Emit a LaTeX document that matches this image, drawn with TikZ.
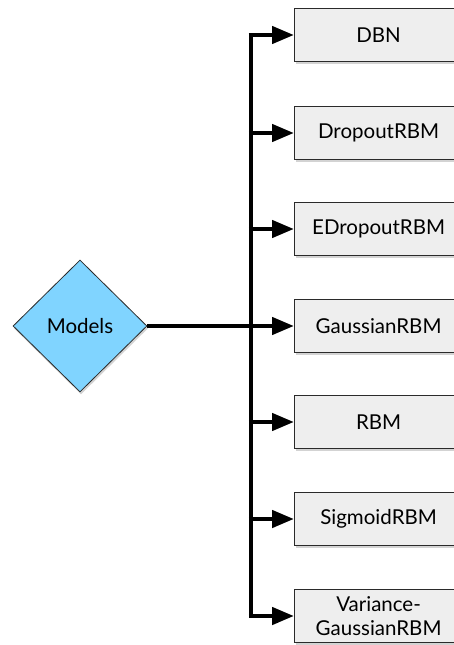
\documentclass[tikz,border=0pt]{standalone}
\usepackage{fontspec}
\setmainfont{Lato}
\usetikzlibrary{shapes.geometric,arrows.meta,shadows}
\definecolor{boxfill}{HTML}{EEEEEE}
\definecolor{boxline}{HTML}{2A2A2A}
\definecolor{dia}{HTML}{80D4FF}
\begin{document}
\begin{tikzpicture}[x=1pt,y=-1pt,
  box/.style={draw=boxline,line width=1.2pt,fill=boxfill,minimum width=168pt,minimum height=53pt,
    inner sep=0pt,anchor=west,align=center,font=\fontsize{20.5}{24}\selectfont,
    drop shadow={shadow xshift=1pt,shadow yshift=-2.5pt,opacity=0.35}},
  diam/.style={diamond,draw=boxline,line width=0.8pt,fill=dia,minimum width=134pt,minimum height=132pt,
    inner sep=0pt,font=\fontsize{20.5}{24}\selectfont,
    drop shadow={shadow xshift=1pt,shadow yshift=-2.5pt,opacity=0.35}},
  conn/.style={line width=4.5pt},
  arr/.style={line width=4.5pt,-{Triangle[length=22pt,width=17pt]}}]
\clip (0,0) rectangle (454,645);
\useasboundingbox (0,0) rectangle (454,645);
\node[diam] (m) at (80,326) {Models};
\node[box] (b1) at (294,35) {DBN};
\node[box] (b2) at (294,133) {DropoutRBM};
\node[box] (b3) at (294,229) {EDropoutRBM};
\node[box] (b4) at (294,326) {GaussianRBM};
\node[box] (b5) at (294,422) {RBM};
\node[box] (b6) at (294,519) {SigmoidRBM};
\node[box] (b7) at (294,616) {Variance-\\GaussianRBM};
\coordinate (t) at (251,326);
\draw[conn] ([xshift=-2.25pt]t |- b1.west) -- (t |- b1.west) -- (t |- b7.west) -- ([xshift=-2.25pt]t |- b7.west);
\draw[arr] (m.east) -- (b4.west);
\foreach \b in {b1,b2,b3,b5,b6,b7} \draw[arr] ([xshift=-2.25pt]t |- \b.west) -- (\b.west);
\end{tikzpicture}
\end{document}
